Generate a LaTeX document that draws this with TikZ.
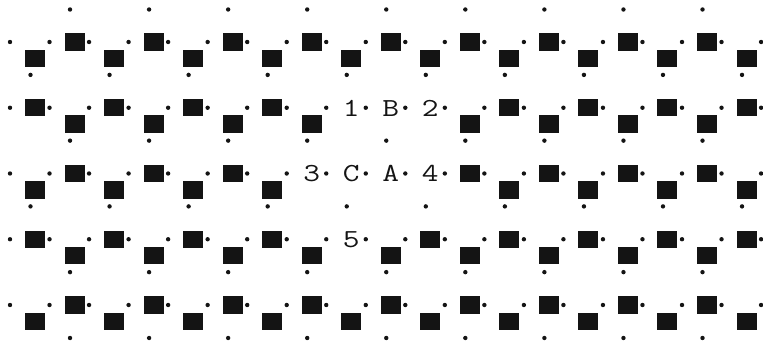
\documentclass[tikz,border=0pt]{standalone}
\usepackage{fontspec}
\usepackage{tikz}
\usetikzlibrary{calc}
\definecolor{InkBlack}{HTML}{141414}
\tikzset{
  blk/.style={fill=InkBlack},
  pip/.style={fill=InkBlack},
  glyph/.style={font=\fontsize{26}{26}\selectfont\ttfamily,text=InkBlack,
                inner sep=0pt,anchor=base,xscale=1.25},
}
% pitch of the grid
\newcommand{\colw}{39.53}
\newcommand{\rowh}{65.75}

\begin{document}
\begin{tikzpicture}[x=1pt,y=-1pt]
  \useasboundingbox (0,0) rectangle (763,344);

  % dots on each row line
  \foreach \r in {0,...,4}{
    \foreach \k in {0,...,19}{
      \fill[pip] ({10+\colw*\k},{42+\rowh*\r}) circle (2.2pt);
    }
  }

  % blocks, high or low, with gaps where letters stand
  \foreach \r in {0,...,4}{
    \foreach \j in {0,...,18}{
      \pgfmathtruncatemacro{\gap}{(\r==1 && \j>7 && \j<11) || (\r==2 && \j>6 && \j<11) || (\r==3 && \j==8)}
      \pgfmathtruncatemacro{\lift}{mod(\j+\r,2)}
      \ifnum\gap=0
        \fill[blk] ({25+\colw*\j},{42+\rowh*\r+(1-\lift)*16.4-8.7}) rectangle ++(20,17.4);
      \fi
    }
  }

  % dots between the rows
  \foreach \j in {1,3,...,17}{
    \fill[pip] ({30.5+\colw*\j},9.5) circle (2.2pt);
    \fill[pip] ({30.5+\colw*\j},338) circle (2.2pt);
  }
  \foreach \r in {0,...,3}{
    \foreach \j in {0,...,18}{
      \pgfmathtruncatemacro{\odd}{mod(\j+\r,2)}
      \ifnum\odd=0
        \fill[pip] ({30.5+\colw*\j},{42+\rowh*\r+32.9}) circle (2.2pt);
      \fi
    }
  }

  % letters
  \foreach \r/\j/\t in {1/8/1,1/9/B,1/10/2,2/7/3,2/8/C,2/9/A,2/10/4,3/8/5}{
    \node[glyph] (c\r-\j) at ({35+\colw*\j},{42+\rowh*\r+8.5}) {\t};
  }

\end{tikzpicture}
\end{document}
